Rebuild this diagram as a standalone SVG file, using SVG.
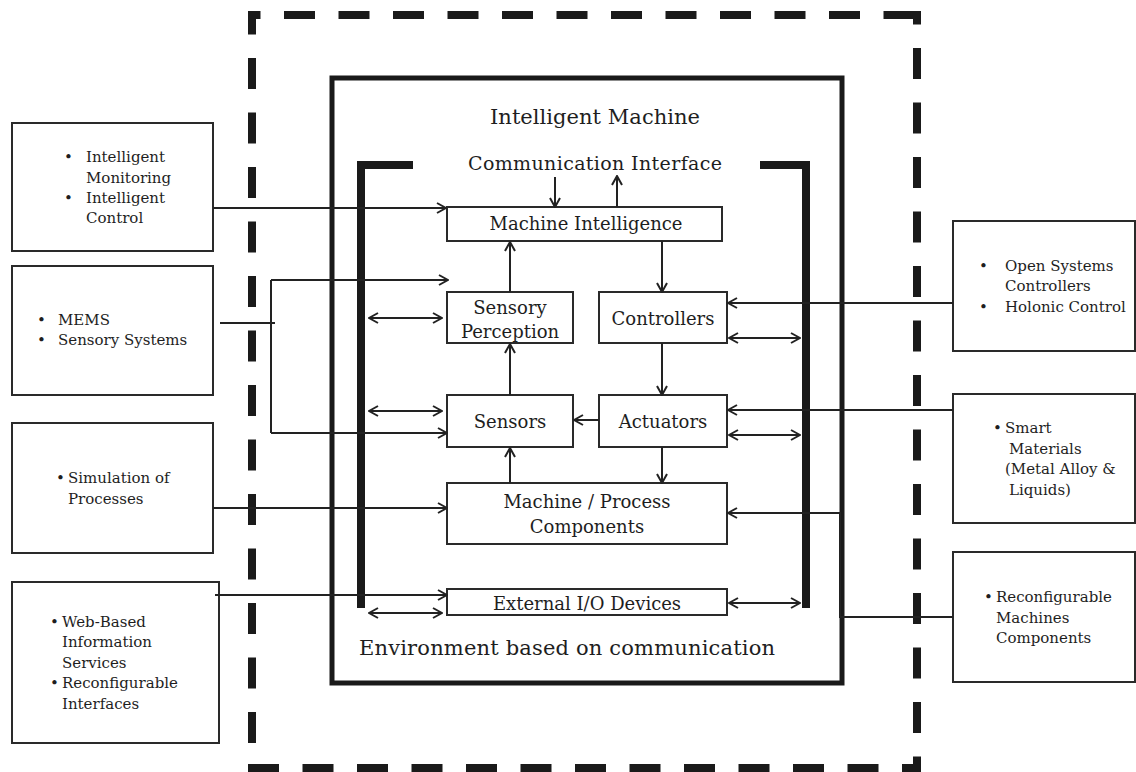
<svg xmlns="http://www.w3.org/2000/svg" width="1136" height="772" viewBox="0 0 1136 772">
<style>
  text { font-family: "DejaVu Serif", "Liberation Serif", serif; fill: #1e1e1e; }
  .sm { font-size: 15px; }
  .md { font-size: 18px; }
  .lg { font-size: 21px; }
  .mid { text-anchor: middle; }
  .box { fill: #fff; stroke: #2a2a2a; stroke-width: 2; }
  .dash { fill: none; stroke: #1a1a1a; stroke-width: 8; stroke-dasharray: 31 23.5; }
  .heavy { fill: none; stroke: #1a1a1a; stroke-width: 8; }
  .frame { fill: none; stroke: #1a1a1a; stroke-width: 5; }
  .ln { fill: none; stroke: #222; stroke-width: 2; }
  .a { marker-end: url(#ah); }
  .aa { marker-start: url(#ah); marker-end: url(#ah); }
</style>
<defs>
  <marker id="ah" viewBox="0 0 12 12" refX="11" refY="6" markerWidth="12" markerHeight="12" orient="auto-start-reverse" markerUnits="userSpaceOnUse">
    <path d="M2,1 L11,6 L2,11" fill="none" stroke="#222" stroke-width="2"/>
  </marker>
</defs>
<rect width="1136" height="772" fill="#fff"/>

<!-- outer dashed boundary -->
<g id="boundary">
  <line class="dash" x1="248" y1="15" x2="921" y2="15" stroke-dashoffset="18.5"/>
  <line class="dash" x1="252" y1="11" x2="252" y2="772" stroke-dashoffset="7.5"/>
  <line class="dash" x1="917" y1="11" x2="917" y2="772" stroke-dashoffset="17.5"/>
  <line class="dash" x1="248" y1="768" x2="921" y2="768" stroke-dashoffset="0"/>
</g>

<!-- intelligent machine frame -->
<g id="intelligent-machine">
  <rect class="frame" x="332" y="78" width="510" height="605"/>
  <text class="lg mid" x="595" y="124" textLength="210">Intelligent Machine</text>
  <text class="lg mid" x="567" y="655" textLength="416">Environment based on communication</text>
</g>

<g id="communication-interface">
  <path class="heavy" d="M413,165 H361 V608"/>
  <path class="heavy" d="M760,165 H806 V608"/>
  <text class="md mid" x="595" y="170" style="font-size:19px" textLength="254">Communication Interface</text>
</g>

<g id="machine-intelligence">
  <rect class="box" x="447" y="207" width="275" height="34"/>
  <text class="md mid" x="586" y="230">Machine Intelligence</text>
</g>
<g id="sensory-perception">
  <rect class="box" x="447" y="292" width="126" height="51"/>
  <text class="md mid" x="510" y="314">Sensory</text>
  <text class="md mid" x="510" y="338">Perception</text>
</g>
<g id="controllers">
  <rect class="box" x="599" y="292" width="128" height="51"/>
  <text class="md mid" x="663" y="325">Controllers</text>
</g>
<g id="sensors">
  <rect class="box" x="447" y="395" width="126" height="52"/>
  <text class="md mid" x="510" y="428">Sensors</text>
</g>
<g id="actuators">
  <rect class="box" x="599" y="395" width="128" height="52"/>
  <text class="md mid" x="663" y="428">Actuators</text>
</g>
<g id="machine-process">
  <rect class="box" x="447" y="483" width="280" height="61"/>
  <text class="md mid" x="587" y="508">Machine / Process</text>
  <text class="md mid" x="587" y="533">Components</text>
</g>
<g id="external-io">
  <rect class="box" x="447" y="589" width="280" height="26"/>
  <text class="md mid" x="587" y="610">External I/O Devices</text>
</g>

<!-- left boxes -->
<g id="intelligent-monitoring">
  <rect class="box" x="12" y="123" width="201" height="128"/>
  <text class="sm"><tspan x="64" y="162">•</tspan><tspan x="86" y="162">Intelligent</tspan><tspan x="86" y="183">Monitoring</tspan><tspan x="64" y="203">•</tspan><tspan x="86" y="203">Intelligent</tspan><tspan x="86" y="223">Control</tspan></text>
</g>
<g id="mems">
  <rect class="box" x="12" y="266" width="201" height="129"/>
  <text class="sm"><tspan x="37" y="325">•</tspan><tspan x="58" y="325">MEMS</tspan><tspan x="37" y="345">•</tspan><tspan x="58" y="345">Sensory Systems</tspan></text>
</g>
<g id="simulation">
  <rect class="box" x="12" y="423" width="201" height="130"/>
  <text class="sm"><tspan x="56" y="483">•</tspan><tspan x="68" y="483">Simulation of</tspan><tspan x="68" y="504">Processes</tspan></text>
</g>
<g id="web-based">
  <rect class="box" x="12" y="582" width="207" height="161"/>
  <text class="sm"><tspan x="50" y="627">•</tspan><tspan x="62" y="627">Web-Based</tspan><tspan x="62" y="647">Information</tspan><tspan x="62" y="668">Services</tspan><tspan x="50" y="688">•</tspan><tspan x="62" y="688">Reconfigurable</tspan><tspan x="62" y="709">Interfaces</tspan></text>
</g>

<!-- right boxes -->
<g id="open-systems">
  <rect class="box" x="953" y="221" width="182" height="130"/>
  <text class="sm"><tspan x="979" y="271">•</tspan><tspan x="1005" y="271">Open Systems</tspan><tspan x="1005" y="291">Controllers</tspan><tspan x="979" y="312">•</tspan><tspan x="1005" y="312">Holonic Control</tspan></text>
</g>
<g id="smart-materials">
  <rect class="box" x="953" y="394" width="182" height="129"/>
  <text class="sm"><tspan x="993" y="433">•</tspan><tspan x="1005" y="433">Smart</tspan><tspan x="1009" y="454">Materials</tspan><tspan x="1005" y="474">(Metal Alloy &amp;</tspan><tspan x="1009" y="495">Liquids)</tspan></text>
</g>
<g id="reconfigurable-machines">
  <rect class="box" x="953" y="552" width="182" height="130"/>
  <text class="sm"><tspan x="984" y="602">•</tspan><tspan x="996" y="602">Reconfigurable</tspan><tspan x="996" y="623">Machines</tspan><tspan x="996" y="643">Components</tspan></text>
</g>

<!-- connectors -->
<g id="connectors">
  <path class="ln a" d="M213,208 H446"/>
  <path class="ln" d="M220,323 H275"/>
  <path class="ln" d="M271,433 V280"/>
  <path class="ln a" d="M271,280 H448"/>
  <path class="ln a" d="M271,433 H447"/>
  <path class="ln a" d="M213,508 H447"/>
  <path class="ln a" d="M215,595 H447"/>
  <path class="ln aa" d="M369,318 H442"/>
  <path class="ln aa" d="M369,411 H442"/>
  <path class="ln aa" d="M369,613 H442"/>

  <path class="ln a" d="M555,177 V207"/>
  <path class="ln a" d="M617,207 V176"/>
  <path class="ln a" d="M510,292 V242"/>
  <path class="ln a" d="M510,395 V344"/>
  <path class="ln a" d="M510,483 V448"/>
  <path class="ln a" d="M662,241 V292"/>
  <path class="ln a" d="M662,343 V395"/>
  <path class="ln a" d="M662,447 V483"/>
  <path class="ln a" d="M599,420 H574"/>

  <path class="ln a" d="M953,303 H728"/>
  <path class="ln aa" d="M729,338 H800"/>
  <path class="ln a" d="M953,410 H728"/>
  <path class="ln aa" d="M729,435 H800"/>
  <path class="ln a" d="M953,617 H840 V513 H728"/>
  <path class="ln aa" d="M729,603 H800"/>
</g>
</svg>
